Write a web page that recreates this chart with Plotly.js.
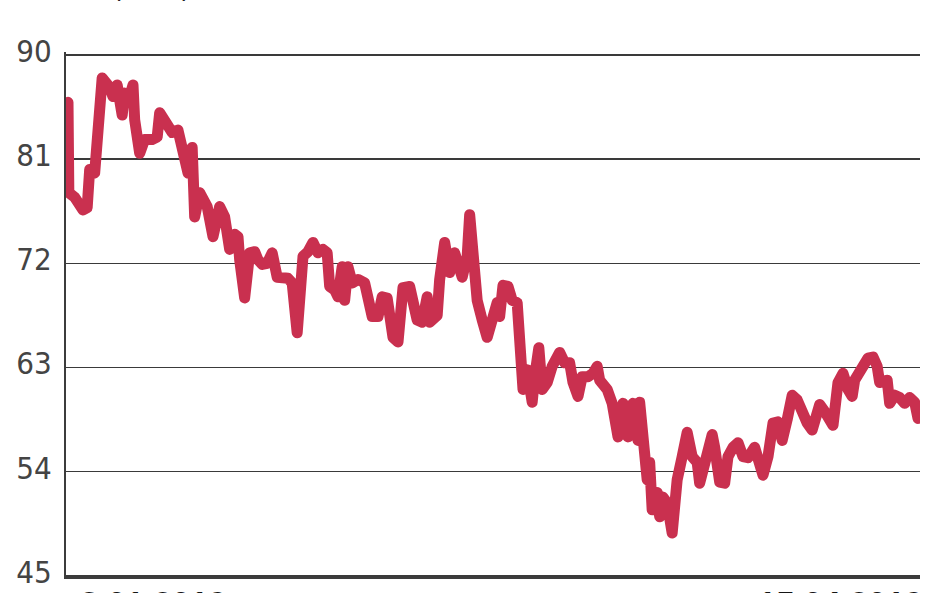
<!DOCTYPE html>
<html>
<head>
<meta charset="utf-8">
<script src="https://cdn.plot.ly/plotly-3.0.1.min.js"></script>
<style>
html,body{margin:0;padding:0;background:#fff;}
#chart{width:948px;height:593px;}
.js-line{stroke-linejoin:round !important;stroke-linecap:round !important;}
</style>
</head>
<body>
<div id="chart"></div>
<script>
// Days since 3.01.2019
const days = [0,0.1,0.8,1.8,2.3,2.6,3.2,4.1,5.0,5.4,5.9,6.5,6.8,7.2,7.8,8.0,8.6,9.2,10.1,10.7,
11.0,11.9,12.5,13.2,13.4,14.0,14.4,14.9,15.0,15.2,15.8,16.7,17.4,17.9,18.2,18.8,19.4,20.0,20.4,20.6,
21.2,21.8,22.4,22.8,23.3,23.9,24.5,25.1,25.8,26.4,26.9,27.5,28.2,28.8,29.4,30.0,30.6,31.1,31.4,32.0,
32.4,32.9,33.2,33.6,34.1,34.8,35.6,36.0,36.5,37.2,37.7,38.3,38.6,39.0,39.6,40.2,41.0,41.9,42.5,43.1,
43.4,44.3,44.6,45.2,45.8,46.4,47.3,47.9,48.2,48.6,49.1,49.7,50.3,50.9,51.5,51.8,52.2,52.8,53.3,53.9,
54.2,54.6,55.1,55.7,56.0,56.5,56.9,57.5,58.1,58.4,59.0,59.6,60.2,60.6,61.2,61.7,62.4,63.0,63.5,63.8,
64.7,65.3,65.6,66.0,66.6,67.2,67.8,68.4,68.6,69.0,69.5,69.8,70.1,70.7,71.0,71.4,71.9,72.5,73.1,73.7,
74.3,74.9,75.5,75.8,76.4,77.3,77.6,78.2,78.8,79.2,79.8,80.4,81.0,81.6,82.4,82.8,83.4,84.0,84.6,85.2,
85.7,86.3,86.9,87.5,88.1,88.7,89.3,89.9,90.2,90.8,91.4,91.8,92.4,93.0,93.6,94.1,94.4,95.0,95.4,96.0,
96.6,97.1,97.4,98.3,98.6,99.2,99.8,100.4,101.0,101.6,102.0];
const prices = [85.9,78.1,77.7,76.6,76.8,80.1,79.8,88.0,87.2,86.4,87.4,84.8,86.7,85.9,87.4,84.4,81.5,82.7,82.7,82.9,
85.0,83.8,83.3,83.5,82.7,80.1,79.8,82.0,76.4,76.0,78.1,76.9,74.3,76.9,76.9,76.0,73.2,74.5,74.3,72.3,
69.0,72.9,73.0,72.3,71.9,72.0,72.9,70.8,70.8,70.7,70.3,66.0,72.6,73.0,73.8,72.9,73.2,72.9,70.0,69.7,
69.1,71.7,68.8,71.7,70.3,70.6,70.3,68.6,67.4,67.4,69.1,69.0,67.7,65.6,65.2,69.9,70.0,67.1,66.9,69.1,
66.9,67.5,70.6,73.8,71.2,72.9,70.8,72.6,76.2,73.2,68.8,67.1,65.6,67.1,68.6,67.4,70.1,70.0,68.8,68.6,
65.4,61.1,62.8,60.0,62.2,64.7,61.1,61.7,63.1,63.7,64.3,63.4,63.4,61.7,60.5,62.2,62.2,62.5,63.1,61.9,
61.1,59.9,58.7,57.0,59.9,57.0,59.9,56.7,60.0,55.3,53.3,54.8,50.7,52.2,50.1,51.8,51.3,48.7,53.3,55.3,
57.4,55.3,54.8,53.0,54.8,57.2,56.1,53.1,53.0,55.3,56.1,56.5,55.3,55.2,56.1,55.0,53.7,55.3,58.2,58.3,
56.7,58.5,60.6,60.2,59.1,58.2,57.6,59.1,59.8,59.2,58.5,58.0,61.7,62.5,61.1,60.5,61.9,62.8,63.4,63.8,
63.9,63.1,61.7,61.9,59.9,60.6,60.4,59.9,60.4,60.0,58.6];
const yTicks = [45,54,63,72,81,90];
const startLabel = "3.01.2019";
const endLabel = "15.04.2019";
const titleText = "Ropa Brent (USD)";

const trace = {
  x: days, y: prices, type: 'scatter', mode: 'lines',
  line: {color: '#c9304f', width: 11},
  hoverinfo: 'skip'
};

const layout = {
  width: 948, height: 593,
  margin: {l: 66, r: 28, t: 52, b: 16, pad: 0},
  paper_bgcolor: '#ffffff', plot_bgcolor: '#ffffff',
  showlegend: false,
  xaxis: {
    range: [-0.24, 102.24], showgrid: false, zeroline: false,
    showticklabels: false, ticks: '',
    showline: true, linecolor: '#3c3c3c', linewidth: 2
  },
  yaxis: {
    range: [44.9, 90.25], tickvals: yTicks, ticktext: yTicks.map(String),
    showgrid: true, gridcolor: '#3a3a3a', gridwidth: 1.5,
    zeroline: false, ticks: '', ticklabelstandoff: 6,
    ticklabelshift: -4, ticklabeloverflow: 'allow',
    showline: true, linecolor: '#3c3c3c', linewidth: 2,
    tickfont: {family: 'DejaVu Sans Condensed, DejaVu Sans, sans-serif', size: 31, color: '#444444'}
  },
  annotations: [
    {text: startLabel, xref: 'paper', yref: 'paper', x: 0.014, y: 0, xanchor: 'left', yanchor: 'top',
     yshift: -6, showarrow: false,
     font: {family: 'Liberation Sans, Arial, sans-serif', size: 33, color: '#151515', weight: 'bold'}},
    {text: endLabel, xref: 'paper', yref: 'paper', x: 1.006, y: 0, xanchor: 'right', yanchor: 'top',
     yshift: -6, showarrow: false,
     font: {family: 'Liberation Sans, Arial, sans-serif', size: 33, color: '#151515', weight: 'bold'}},
    {text: titleText, xref: 'paper', yref: 'paper', x: 0.1487, y: 1, xanchor: 'right', yanchor: 'bottom',
     yshift: 46, showarrow: false,
     font: {family: 'DejaVu Sans Condensed, DejaVu Sans, sans-serif', size: 30, color: '#222222'}}
  ]
};

Plotly.newPlot('chart', [trace], layout, {staticPlot: true, displayModeBar: false});
</script>
</body>
</html>
